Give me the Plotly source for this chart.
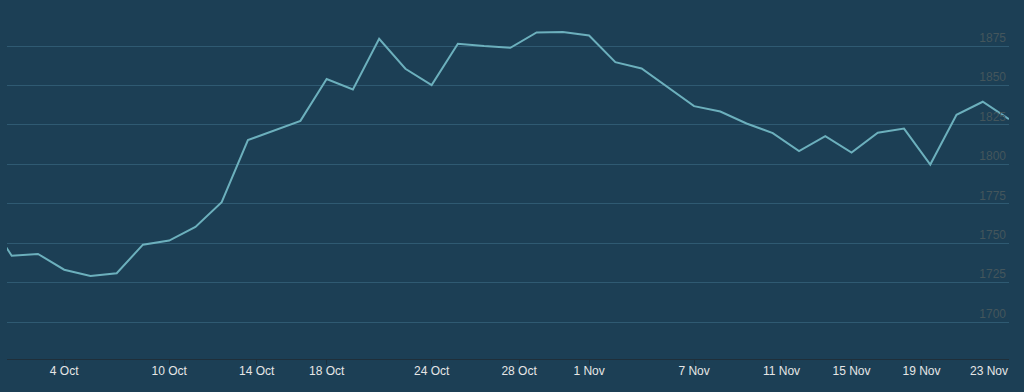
import numpy as np
import pandas as pd
import plotly.graph_objects as go

# Trading days (ordinal axis: weekends are skipped)
dates = [
    "2023-09-29",
    "2023-10-02", "2023-10-03", "2023-10-04", "2023-10-05", "2023-10-06",
    "2023-10-09", "2023-10-10", "2023-10-11", "2023-10-12", "2023-10-13",
    "2023-10-16", "2023-10-17", "2023-10-18", "2023-10-19", "2023-10-20",
    "2023-10-23", "2023-10-24", "2023-10-25", "2023-10-26", "2023-10-27",
    "2023-10-30", "2023-10-31", "2023-11-01", "2023-11-02", "2023-11-03",
    "2023-11-06", "2023-11-07", "2023-11-08", "2023-11-09", "2023-11-10",
    "2023-11-13", "2023-11-14", "2023-11-15", "2023-11-16", "2023-11-17",
    "2023-11-20", "2023-11-21", "2023-11-22", "2023-11-23",
]
values = [
    1767.4,
    1742.1, 1743.2, 1733.2, 1729.3, 1731.0,
    1749.1, 1751.7, 1760.3, 1776.0, 1815.4,
    1821.6, 1827.6, 1854.1, 1847.5, 1879.6,
    1860.6, 1850.3, 1876.5, 1875.0, 1873.9,
    1883.6, 1883.9, 1881.7, 1864.8, 1860.8,
    1848.9, 1836.9, 1833.5, 1825.9, 1819.8,
    1808.4, 1817.9, 1807.5, 1820.0, 1822.7,
    1799.9, 1831.4, 1839.7, 1828.7,
]
tick_dates = ["2023-10-04", "2023-10-10", "2023-10-14", "2023-10-18", "2023-10-24",
              "2023-10-28", "2023-11-01", "2023-11-07", "2023-11-11", "2023-11-15",
              "2023-11-19", "2023-11-23"]
tick_labels = ["4 Oct", "10 Oct", "14 Oct", "18 Oct", "24 Oct", "28 Oct", "1 Nov",
               "7 Nov", "11 Nov", "15 Nov", "19 Nov", "23 Nov"]
y_ticks = [1700, 1725, 1750, 1775, 1800, 1825, 1850, 1875, 1900]
y_labels = ["1700", "1725", "1750", "1775", "1800", "1825", "1850", "1875", ""]

# ordinal positions: index of each trading day, Oct 2 = 0
pos = np.arange(len(dates)) - 1
d_ord = pd.to_datetime(dates).map(pd.Timestamp.toordinal).to_numpy()
t_ord = pd.to_datetime(tick_dates).map(pd.Timestamp.toordinal).to_numpy()
tick_pos = np.interp(t_ord, d_ord, pos)

BG = "#1c3f55"
FONT = "Liberation Sans, Arial, sans-serif"
XLAB = "#e6e6e6"

# the last label is shifted left to stay inside the chart (as the original does)
ticktext = tick_labels[:-1] + [""]

fig = go.Figure()
fig.add_trace(go.Scatter(
    x=pos, y=values, mode="lines",
    line=dict(color="#6cb0bd", width=2),
    customdata=dates,
    hovertemplate="%{customdata}<br>%{y:.1f}<extra></extra>",
))

fig.add_annotation(
    x=tick_pos[-1], xref="x", y=0, yref="paper",
    xanchor="right", yanchor="top", yshift=-3, xshift=1,
    text=tick_labels[-1], showarrow=False,
    font=dict(color=XLAB, size=12, family=FONT),
)

fig.update_layout(
    width=1024, height=392,
    margin=dict(l=7, r=15, t=6, b=33),
    paper_bgcolor=BG, plot_bgcolor=BG,
    showlegend=False,
    font=dict(family=FONT),
    xaxis=dict(
        range=[-0.18, 38.0],
        tickmode="array", tickvals=tick_pos, ticktext=ticktext,
        showgrid=False, zeroline=False,
        showline=True, linecolor="#1f2f3a", linewidth=1,
        ticks="outside", ticklen=5, tickcolor="#1f2f3a",
        ticklabelstandoff=-4,
        tickfont=dict(color=XLAB, size=12, family=FONT),
    ),
    yaxis=dict(
        range=[1676.6, 1900.4],
        side="right",
        tickmode="array", tickvals=y_ticks, ticktext=y_labels,
        showgrid=True, gridcolor="#2f5a72", gridwidth=1,
        zeroline=False, showline=False,
        ticks="",
        ticklabelposition="inside top",
        tickfont=dict(color="#44565c", size=12, family=FONT),
    ),
)

fig.write_html("out.html")
